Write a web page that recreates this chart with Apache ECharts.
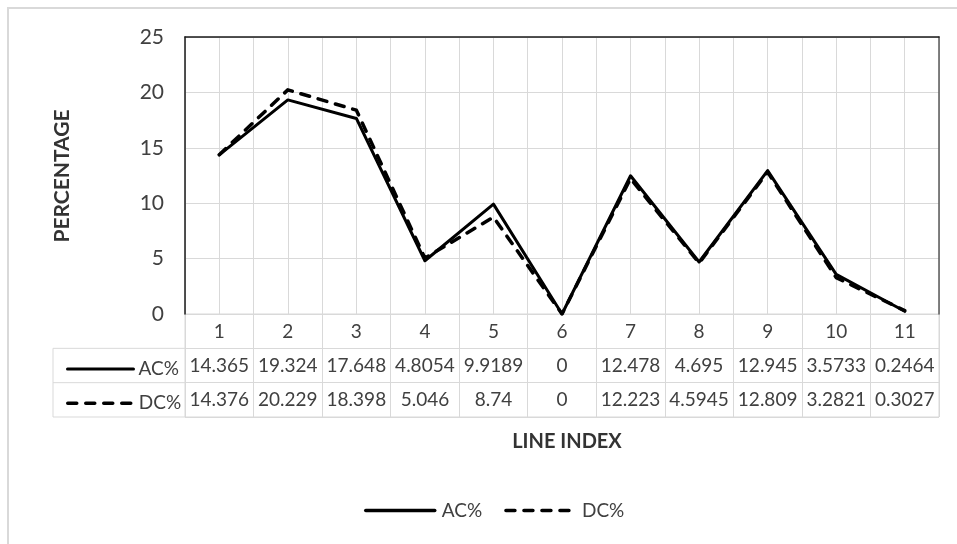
<!DOCTYPE html>
<html><head><meta charset="utf-8">
<script src="https://cdn.jsdelivr.net/npm/echarts@6/dist/echarts.min.js"></script>
<style>html,body{margin:0;padding:0;background:#fff}#c{width:957px;height:544px}</style>
</head><body><div id="c"></div>
<script>
// ---- data ----
const categories = ['1', '2', '3', '4', '5', '6', '7', '8', '9', '10', '11'];
const acName = 'AC%';
const dcName = 'DC%';
const acValues = [14.365, 19.324, 17.648, 4.8054, 9.9189, 0, 12.478, 4.695, 12.945, 3.5733, 0.2464];
const dcValues = [14.376, 20.229, 18.398, 5.046, 8.74, 0, 12.223, 4.5945, 12.809, 3.2821, 0.3027];
const yMin = 0, yMax = 25, yStep = 5;
const xTitle = 'LINE INDEX';
const yTitle = 'PERCENTAGE';

// ---- layout ----
const W = 957, H = 544;
const PL = 185, PR = 939, PT = 37, PB = 314;
const TB = 417;            // table bottom
const rowH = (TB - PB) / 3;
const FONT = 'Lato';
const TXT = '#404040';
const GRID = '#d9d9d9';

const chart = echarts.init(document.getElementById('c'), null, {renderer: 'canvas'});

const lbl = {fontFamily: FONT, fontSize: 19, color: TXT};
const acLine = {color: '#000', width: 3, type: 'solid', cap: 'round', join: 'round'};
const dcLine = {color: '#000', width: 3.5, type: [9, 9], cap: 'round', join: 'round'};
const noSym = {opacity: 0, borderWidth: 0};

const rowCenter = i => PB + rowH * (i + 0.5);

const option = {
  animation: false,
  backgroundColor: '#fff',
  textStyle: {fontFamily: FONT},
  title: {
    text: xTitle,
    left: (PL + PR) / 2, top: 427, textAlign: 'center',
    textStyle: {fontFamily: FONT, fontSize: 20, fontWeight: 'bold', color: '#333'}
  },
  legend: [
    {
      data: [{name: acName}], left: 61, top: rowCenter(1) - 11, itemWidth: 66, itemHeight: 22, itemGap: 0,
      selectedMode: false, textStyle: Object.assign({}, lbl, {padding: [0, 0, 0, 0]}),
      itemStyle: noSym, lineStyle: {width: 3}
    },
    {
      data: [{name: dcName}], left: 61, top: rowCenter(2) - 11, itemWidth: 66, itemHeight: 22, itemGap: 0,
      selectedMode: false, textStyle: Object.assign({}, lbl, {padding: [0, 0, 0, 0]}),
      itemStyle: noSym, lineStyle: {width: 3.5}
    },
    {
      data: [{name: acName}, {name: dcName}], left: 359, top: 496, itemWidth: 69, itemHeight: 22, itemGap: 22,
      selectedMode: false, textStyle: Object.assign({}, lbl, {padding: [0, 0, 0, 2]}),
      itemStyle: noSym, lineStyle: {width: 3.5}
    }
  ],
  grid: [
    {left: PL, right: W - PR, top: PT, bottom: H - PB, containLabel: false},
    {left: PL, right: W - PR, top: PB, bottom: H - TB, containLabel: false, show: true, borderColor: GRID, borderWidth: 1}
  ],
  xAxis: [
    { // header row: category numbers
      type: 'category', gridIndex: 0, data: categories, boundaryGap: true, position: 'bottom',
      axisLine: {show: false}, axisTick: {show: false}, splitLine: {show: false},
      axisLabel: Object.assign({}, lbl, {interval: 0, margin: 8})
    },
    { // half-category vertical gridlines + top border
      type: 'value', gridIndex: 0, min: 0.5, max: categories.length + 0.5, interval: 0.5, position: 'top',
      axisLine: {show: true, onZero: false, lineStyle: {color: '#1a1a1a', width: 1.5}},
      axisTick: {show: false}, axisLabel: {show: false},
      splitLine: {show: true, lineStyle: {color: GRID, width: 1}}
    },
    { // AC% table row
      type: 'category', gridIndex: 0, data: acValues.map(String), position: 'bottom', offset: rowH,
      axisLine: {show: false}, axisTick: {show: false}, splitLine: {show: false},
      axisLabel: Object.assign({}, lbl, {interval: 0, margin: 8, hideOverlap: false})
    },
    { // DC% table row
      type: 'category', gridIndex: 0, data: dcValues.map(String), position: 'bottom', offset: rowH * 2,
      axisLine: {show: false}, axisTick: {show: false}, splitLine: {show: false},
      axisLabel: Object.assign({}, lbl, {interval: 0, margin: 8, hideOverlap: false})
    },
    { // table column separators
      type: 'category', gridIndex: 1, data: categories, boundaryGap: true,
      axisLine: {show: false}, axisTick: {show: false}, axisLabel: {show: false},
      splitLine: {show: true, interval: 0, lineStyle: {color: GRID, width: 1}}
    }
  ],
  yAxis: [
    {
      type: 'value', gridIndex: 0, min: yMin, max: yMax, interval: yStep,
      axisLine: {show: true, lineStyle: {color: '#1a1a1a', width: 1.5}},
      axisTick: {show: false},
      axisLabel: {fontFamily: FONT, fontSize: 21, color: TXT, margin: 21},
      splitLine: {show: true, lineStyle: {color: GRID, width: 1}}
    },
    {
      type: 'value', gridIndex: 0, min: yMin, max: yMax, interval: yStep, position: 'right',
      axisLine: {show: true, lineStyle: {color: '#595959', width: 1.5}},
      axisTick: {show: false}, axisLabel: {show: false}, splitLine: {show: false}
    },
    { // table row separators
      type: 'value', gridIndex: 1, min: 0, max: 3, interval: 1, inverse: true,
      axisLine: {show: false}, axisTick: {show: false}, axisLabel: {show: false},
      splitLine: {show: true, lineStyle: {color: GRID, width: 1}}
    }
  ],
  series: [
    {
      name: acName, type: 'line', xAxisIndex: 0, yAxisIndex: 0, data: acValues,
      symbol: 'none', lineStyle: acLine, itemStyle: {color: '#000'}, z: 3
    },
    {
      name: dcName, type: 'line', xAxisIndex: 0, yAxisIndex: 0, data: dcValues,
      symbol: 'none', lineStyle: dcLine, itemStyle: {color: '#000'}, z: 4
    }
  ],
  graphic: [
    { // outer chart frame
      type: 'rect', silent: true, z: -10,
      shape: {x: 8, y: 8, width: W + 10, height: H + 10},
      style: {fill: 'none', stroke: GRID, lineWidth: 2}
    },
    { // legend-key column of the data table
      type: 'polyline', silent: true,
      shape: {points: [[PL, PB + rowH], [53, PB + rowH], [53, TB], [PL, TB]]},
      style: {fill: 'none', stroke: GRID, lineWidth: 1}
    },
    {
      type: 'line', silent: true,
      shape: {x1: 53, y1: PB + rowH * 2, x2: PL, y2: PB + rowH * 2},
      style: {stroke: GRID, lineWidth: 1}
    },
    {
      type: 'text', silent: true, x: 62, y: 176, rotation: Math.PI / 2,
      style: {text: yTitle, fontFamily: FONT, fontSize: 21, fontWeight: 'bold', fill: '#333',
              align: 'center', verticalAlign: 'middle'}
    }
  ]
};
chart.setOption(option);
</script>
</body></html>
